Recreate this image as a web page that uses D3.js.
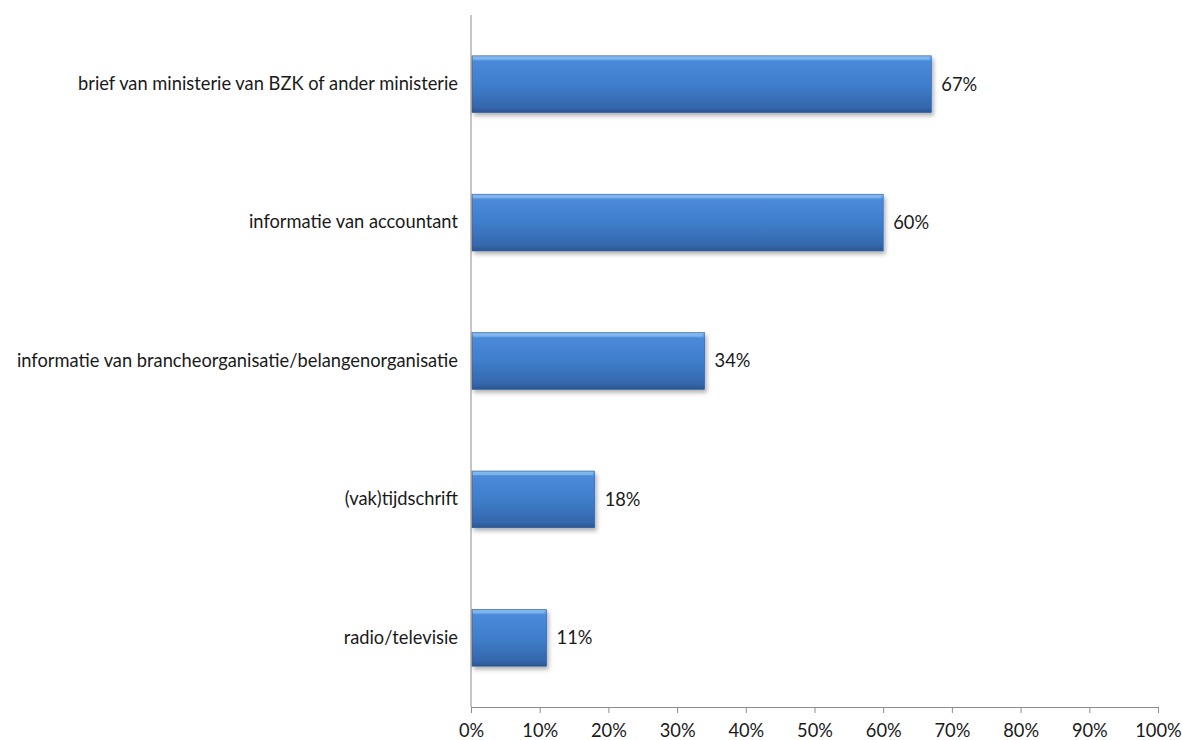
<!DOCTYPE html>
<html>
  <head>
    <meta charset="utf-8">
    <title>Informatiebronnen</title>
    <script src="https://cdn.jsdelivr.net/npm/d3@7"></script>
    <style>
      body { margin: 0; background: #fff; }
      #chart { display: block; }
      text { font-family: Lato, "Open Sans", sans-serif; fill: #1a1a1a; }
      .axis path, .axis line { stroke: #8c8c8c; }
    </style>
  </head>

  <body>
    <svg id="chart" width="1182" height="740">
      <defs>
        <linearGradient id="barFill" x1="0" y1="0" x2="0" y2="1">
          <stop offset="0" stop-color="#7fb6f0"></stop>
          <stop offset="0.1" stop-color="#4a8ad8"></stop>
          <stop offset="0.5" stop-color="#3f7ecb"></stop>
          <stop offset="0.9" stop-color="#3567ad"></stop>
          <stop offset="1" stop-color="#2b5590"></stop>
        </linearGradient>
        <filter id="shadow" x="-10%" y="-20%" width="130%" height="160%">
          <feDropShadow dx="2" dy="3" stdDeviation="2" flood-color="#000" flood-opacity="0.3"></feDropShadow>
        </filter>
      </defs>
      <g id="yAxisGroup" class="axis"></g>
      <g id="xAxisGroup" class="axis"></g>
      <g id="chartGroup"></g>
    </svg>

    <script>
      // data
      categories = [
        "brief van ministerie van BZK of ander ministerie",
        "informatie van accountant",
        "informatie van brancheorganisatie/belangenorganisatie",
        "(vak)tijdschrift",
        "radio/televisie"
      ];
      values = [67, 60, 34, 18, 11];
      tickValues = [0, 10, 20, 30, 40, 50, 60, 70, 80, 90, 100];

      margin = { top: 15, right: 24, bottom: 33, left: 471 };
      width = 1182;
      height = 740;
      fontSize = "18.3px";

      chart = d3.select("#chart");
      chartGroup = d3.select("#chartGroup");

      x = d3.scaleLinear()
        .domain([0, 100])
        .range([margin.left, width - margin.right]);

      y = d3.scaleBand()
        .domain(categories)
        .range([margin.top, height - margin.bottom])
        .paddingInner(0.59)
        .paddingOuter(0.295);

      // axes
      xAxis = d3.axisBottom(x)
        .tickValues(tickValues)
        .tickFormat(d => d + "%")
        .tickSizeInner(6)
        .tickSizeOuter(0)
        .tickPadding(11);

      d3.select("#xAxisGroup")
        .attr("transform", "translate(0," + (height - margin.bottom) + ")")
        .call(xAxis)
        .call(g => g.selectAll("text").style("font-size", fontSize));

      yAxis = d3.axisLeft(y)
        .tickSize(0)
        .tickPadding(13);

      d3.select("#yAxisGroup")
        .attr("transform", "translate(" + margin.left + ",0)")
        .call(yAxis)
        .call(g => g.select(".domain").attr("d", "M0," + margin.top + "V" + (height - margin.bottom)))
        .call(g => g.selectAll("text").style("font-size", fontSize));

      // bars
      bars = chartGroup.selectAll(".bar")
        .data(categories)
        .enter().append("g")
          .classed("bar", true);

      bars.append("rect")
        .attr("x", x(0) + 1)
        .attr("y", d => y(d))
        .attr("width", (d, i) => x(values[i]) - x(0) - 1)
        .attr("height", y.bandwidth())
        .attr("fill", "url(#barFill)")
        .attr("stroke", "#2f5d99")
        .attr("stroke-width", 0.6)
        .attr("filter", "url(#shadow)");

      // thin top highlight
      bars.append("rect")
        .attr("x", x(0) + 2)
        .attr("y", d => y(d) + 1)
        .attr("width", (d, i) => x(values[i]) - x(0) - 4)
        .attr("height", 3)
        .attr("fill", "#8ec2f5")
        .attr("opacity", 0.6);

      bars.append("text")
        .attr("x", (d, i) => x(values[i]) + 10)
        .attr("y", d => y(d) + y.bandwidth() / 2)
        .attr("dy", "0.35em")
        .style("font-size", fontSize)
        .text((d, i) => values[i] + "%");
    </script>
  </body>
</html>
